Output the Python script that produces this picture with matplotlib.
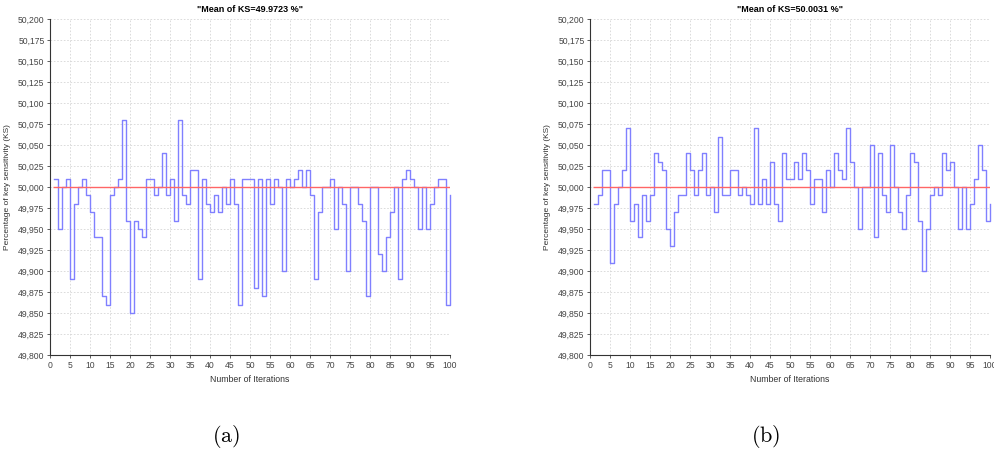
import matplotlib.pyplot as plt
import matplotlib.ticker as mticker

plt.rcParams['font.family'] = ['Liberation Sans', 'DejaVu Sans']
plt.rcParams['mathtext.fontset'] = 'cm'

# ---------------- DATA ----------------
iterations = list(range(1, 101))

ks_a = [50.01, 49.95, 50.00, 50.01, 49.89, 49.98, 50.00, 50.01, 49.99, 49.97,
        49.94, 49.94, 49.87, 49.86, 49.99, 50.00, 50.01, 50.08, 49.96, 49.85,
        49.96, 49.95, 49.94, 50.01, 50.01, 49.99, 50.00, 50.04, 49.99, 50.01,
        49.96, 50.08, 49.99, 49.98, 50.02, 50.02, 49.89, 50.01, 49.98, 49.97,
        49.99, 49.97, 50.00, 49.98, 50.01, 49.98, 49.86, 50.01, 50.01, 50.01,
        49.88, 50.01, 49.87, 50.01, 49.98, 50.01, 50.00, 49.90, 50.01, 50.00,
        50.01, 50.02, 50.00, 50.02, 49.99, 49.89, 49.97, 50.00, 50.00, 50.01,
        49.95, 50.00, 49.98, 49.90, 50.00, 50.00, 49.98, 49.96, 49.87, 50.00,
        50.00, 49.92, 49.90, 49.94, 49.97, 50.00, 49.89, 50.01, 50.02, 50.01,
        50.00, 49.95, 50.00, 49.95, 49.98, 50.00, 50.01, 50.01, 49.86, 49.99]

ks_b = [49.98, 49.99, 50.02, 50.02, 49.91, 49.98, 50.00, 50.02, 50.07, 49.96,
        49.98, 49.94, 49.99, 49.96, 49.99, 50.04, 50.03, 50.02, 49.95, 49.93,
        49.97, 49.99, 49.99, 50.04, 50.02, 49.99, 50.02, 50.04, 49.99, 50.00,
        49.97, 50.06, 49.99, 49.99, 50.02, 50.02, 49.99, 50.00, 49.99, 49.98,
        50.07, 49.98, 50.01, 49.98, 50.03, 49.98, 49.96, 50.04, 50.01, 50.01,
        50.03, 50.01, 50.04, 50.02, 49.98, 50.01, 50.01, 49.97, 50.02, 50.00,
        50.04, 50.02, 50.01, 50.07, 50.03, 50.00, 49.95, 50.00, 50.00, 50.05,
        49.94, 50.04, 49.99, 49.97, 50.05, 50.00, 49.97, 49.95, 49.99, 50.04,
        50.03, 49.96, 49.90, 49.95, 49.99, 50.00, 49.99, 50.04, 50.02, 50.03,
        50.00, 49.95, 50.00, 49.95, 49.98, 50.01, 50.05, 50.02, 49.96, 49.98]

reference_level = 50.0
titles = ['"Mean of KS=49.9723 %"', '"Mean of KS=50.0031 %"']
captions = ['(a)', '(b)']


def comma_fmt(v, pos):
    return f"{v:.3f}".replace('.', ',')


fig = plt.figure(figsize=(9.95, 4.55), dpi=100)
axes = [fig.add_axes([0.0503, 0.2198, 0.402, 0.7384]),
        fig.add_axes([0.5930, 0.2198, 0.402, 0.7384])]

for ax, data, title, cap in zip(axes, [ks_a, ks_b], titles, captions):
    ax.step(iterations, data, where='post', color='#8080ff', lw=1.0,
            zorder=3, clip_on=False)
    ax.hlines(reference_level, iterations[0] - 0.2, iterations[-1],
              color='#ff6666', lw=1.0, zorder=4)

    ax.set_xlim(0, 100)
    ax.set_ylim(49.8, 50.2)
    ax.xaxis.set_major_locator(mticker.MultipleLocator(5))
    ax.yaxis.set_major_locator(mticker.MultipleLocator(0.025))
    ax.yaxis.set_major_formatter(mticker.FuncFormatter(comma_fmt))
    ax.tick_params(labelsize=6.2, length=2.5, width=0.6, color='#444444',
                   labelcolor='#444444', pad=1.5)

    ax.grid(True, color='#d6d6d6', linestyle=(0, (2, 2)), lw=0.6)
    ax.set_axisbelow(True)
    for side in ['top', 'right']:
        ax.spines[side].set_visible(False)
    for side in ['left', 'bottom']:
        ax.spines[side].set_linestyle((0, (1, 1)))
        ax.spines[side].set_color('#333333')
        ax.spines[side].set_linewidth(0.8)

    ax.set_title(title, fontsize=6.5, fontweight='bold', pad=5)
    ax.set_xlabel('Number of Iterations', fontsize=6.3, color='#333333', labelpad=4)
    ax.set_ylabel('Percentage of key sensitivity (KS)', fontsize=6,
                  color='#333333', labelpad=5)

    box = ax.get_position()
    fig.text(box.x0 + box.width * 0.44, 0.04, r'$\mathrm{' + cap + '}$',
             fontsize=16, ha='center', va='center')

fig.savefig('out.png', dpi=100)
